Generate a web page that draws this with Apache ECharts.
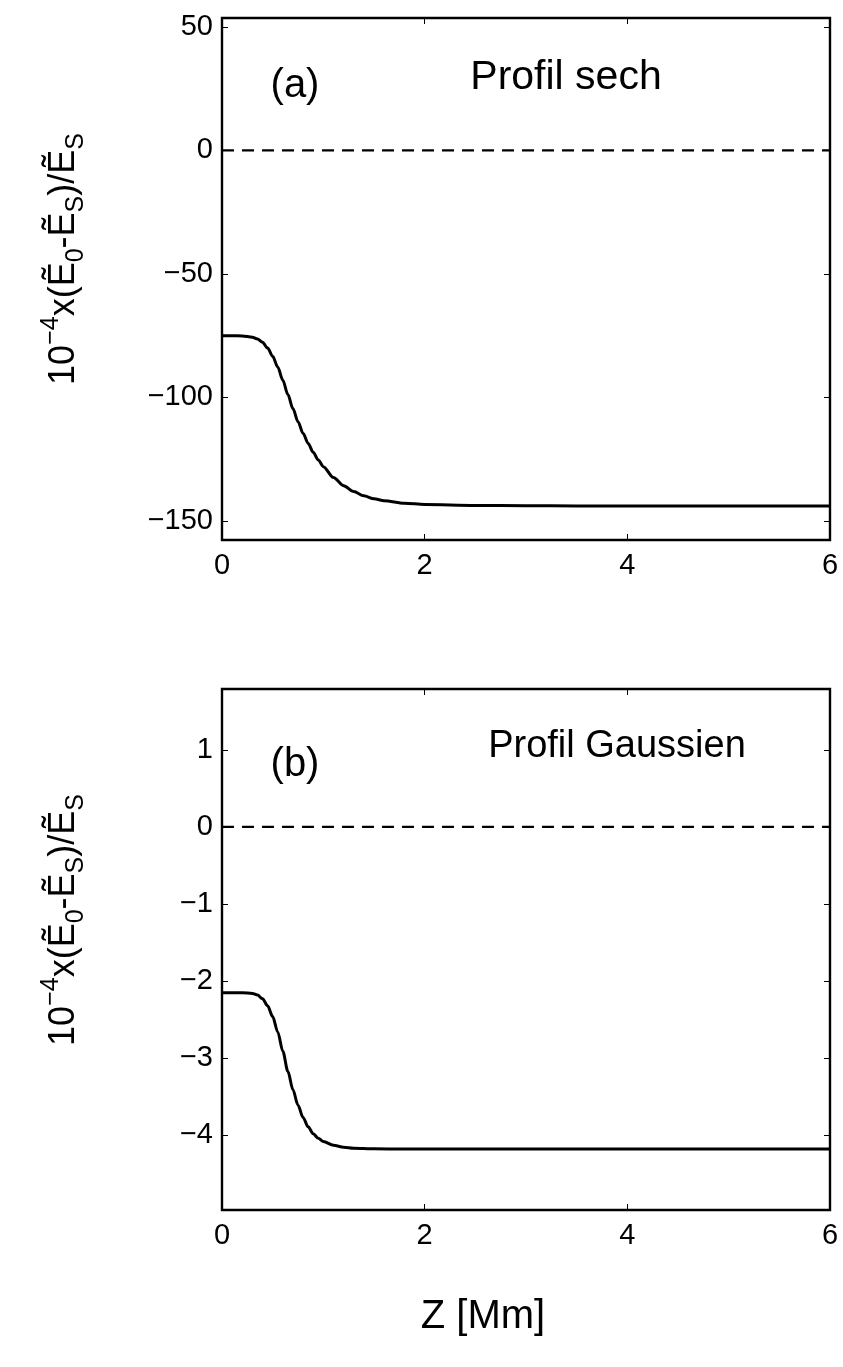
<!DOCTYPE html>
<html>
<head>
<meta charset="utf-8">
<script src="https://cdn.jsdelivr.net/npm/echarts@6/dist/echarts.min.js"></script>
<style>
html,body{margin:0;padding:0;background:#fff;}
#main{width:843px;height:1367px;}
</style>
</head>
<body>
<div id="main"></div>
<script>
// ---- Data ----
const zA = [0, 0.1, 0.2, 0.3, 0.35, 0.4, 0.45, 0.5, 0.55, 0.6, 0.65, 0.7, 0.75, 0.8, 0.85, 0.9, 0.95, 1.0, 1.1, 1.2, 1.3, 1.4, 1.5, 1.6, 1.8, 2.0, 2.5, 3.0, 3.5, 4.0, 5.0, 6.0];
const vA = [-75, -75, -75.1, -75.6, -76.3, -77.7, -80.0, -83.3, -87.7, -93.0, -98.8, -104.5, -109.8, -114.5, -118.6, -122.2, -125.3, -128.0, -132.4, -135.7, -138.1, -139.8, -141.0, -141.8, -142.8, -143.3, -143.7, -143.8, -143.9, -143.9, -143.9, -143.9];
const zB = [0, 0.1, 0.2, 0.3, 0.35, 0.4, 0.45, 0.5, 0.55, 0.6, 0.65, 0.7, 0.75, 0.8, 0.85, 0.9, 0.95, 1.0, 1.1, 1.2, 1.3, 1.5, 1.8, 2.0, 2.5, 3.0, 4.0, 5.0, 6.0];
const vB = [-2.15, -2.15, -2.15, -2.16, -2.18, -2.23, -2.32, -2.46, -2.66, -2.91, -3.17, -3.41, -3.61, -3.77, -3.89, -3.98, -4.04, -4.08, -4.13, -4.155, -4.168, -4.176, -4.18, -4.18, -4.18, -4.18, -4.18, -4.18, -4.18];
const zeroZ = [0, 6];
const zeroV = [0, 0];
const xTicks = [0, 2, 4, 6];
const yTicksA = [-150, -100, -50, 0, 50];
const yTicksB = [-4, -3, -2, -1, 0, 1];
const yRangeA = [-157.7, 53.6];
const yRangeB = [-4.97, 1.79];
const labelA = '(a)', titleA = 'Profil sech';
const labelB = '(b)', titleB = 'Profil Gaussien';
const xName = 'Z [Mm]';

const pairs = (xs, ys) => xs.map((x, i) => [x, ys[i]]);
const FONT = 'Liberation Sans, Arial, Helvetica, sans-serif';
const fmt = v => String(v).replace('-', '\u2212');

const grids = [
  {left: 222, top: 18, width: 608, height: 522},
  {left: 222, top: 689, width: 608, height: 521}
];

function xAxes(gi) {
  const base = {
    type: 'value', gridIndex: gi, min: 0, max: 6,
    splitLine: {show: false}, axisLine: {show: false, onZero: false},
    axisTick: {show: true, inside: true, length: 6, customValues: xTicks, lineStyle: {color: '#000', width: 1}}
  };
  return [
    Object.assign({}, base, {position: 'bottom',
      axisLabel: {show: true, customValues: xTicks, margin: 11, color: '#000', fontSize: 29, fontFamily: FONT, formatter: fmt}}),
    Object.assign({}, base, {position: 'top', axisLabel: {show: false}})
  ];
}
function yAxes(gi, range, ticks) {
  const base = {
    type: 'value', gridIndex: gi, min: range[0], max: range[1],
    splitLine: {show: false}, axisLine: {show: false, onZero: false},
    axisTick: {show: true, inside: true, length: 6, customValues: ticks, lineStyle: {color: '#000', width: 1}}
  };
  return [
    Object.assign({}, base, {position: 'left',
      axisLabel: {show: true, customValues: ticks, margin: 9, color: '#000', fontSize: 29, fontFamily: FONT, formatter: fmt}}),
    Object.assign({}, base, {position: 'right', axisLabel: {show: false}})
  ];
}

const curveStyle = {color: '#000', width: 3};
const dashStyle = {color: '#000', width: 2.2, type: [12, 8]};

const yLabelText = '{n|10}{sup|\u22124}{n|x(\u1EBC}{sub|0}{n|-\u1EBC}{sub|S}{n|)/\u1EBC}{sub|S}';
const yLabelRich = {
  n: {fontSize: 36, fontFamily: FONT, color: '#000', lineHeight: 50},
  sup: {fontSize: 25, fontFamily: FONT, color: '#000', lineHeight: 25, verticalAlign: 'top'},
  sub: {fontSize: 25, fontFamily: FONT, color: '#000', lineHeight: 25, verticalAlign: 'bottom'}
};

function yLabel(cx, cy) {
  return {type: 'text', x: cx, y: cy, rotation: Math.PI / 2,
    style: {text: yLabelText, rich: yLabelRich, align: 'center', verticalAlign: 'middle'}};
}
function txt(x, y, s, size) {
  return {type: 'text', x: x, y: y,
    style: {text: s, fontSize: size, fontFamily: FONT, fill: '#000', align: 'center', verticalAlign: 'middle'}};
}

const option = {
  animation: false,
  backgroundColor: '#fff',
  grid: grids.map(g => Object.assign({}, g, {show: true, borderColor: '#000', borderWidth: 2.4, backgroundColor: '#fff'})),
  xAxis: [...xAxes(0), ...xAxes(1)],
  yAxis: [...yAxes(0, yRangeA, yTicksA), ...yAxes(1, yRangeB, yTicksB)],
  series: [
    {type: 'line', xAxisIndex: 0, yAxisIndex: 0, data: pairs(zeroZ, zeroV), showSymbol: false, lineStyle: dashStyle, silent: true},
    {type: 'line', xAxisIndex: 0, yAxisIndex: 0, data: pairs(zA, vA), showSymbol: false, smooth: 0.3, smoothMonotone: 'x', lineStyle: curveStyle},
    {type: 'line', xAxisIndex: 2, yAxisIndex: 2, data: pairs(zeroZ, zeroV), showSymbol: false, lineStyle: dashStyle, silent: true},
    {type: 'line', xAxisIndex: 2, yAxisIndex: 2, data: pairs(zB, vB), showSymbol: false, smooth: 0.3, smoothMonotone: 'x', lineStyle: curveStyle}
  ],
  graphic: [
    yLabel(64, 259),
    yLabel(64, 920),
    txt(295, 86, labelA, 40),
    txt(566, 78, titleA, 41),
    txt(295, 765, labelB, 40),
    txt(617, 747, titleB, 38),
    txt(483, 1317, xName, 40)
  ]
};

const chart = echarts.init(document.getElementById('main'), null, {renderer: 'canvas'});
chart.setOption(option);
</script>
</body>
</html>
